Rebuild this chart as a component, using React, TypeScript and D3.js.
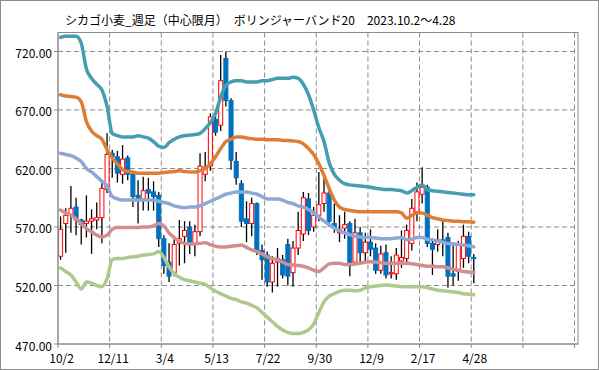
import React from 'react';
import * as d3 from 'd3';

// x軸ラベル (10本ごと)
const tickLabels = ['10/2', '12/11', '3/4', '5/13', '7/22', '9/30', '12/9', '2/17', '4/28'];

// 週足 OHLC
const open = [545, 573, 580, 587, 576, 573, 575, 576, 578, 602, 633, 630, 615, 629, 615, 597, 594, 602, 600, 597,
  560, 540, 531, 556, 562, 570, 556, 566, 615, 622, 662, 657, 714, 678, 626, 607, 577, 573, 590, 550,
  546, 523, 540, 542, 555, 531, 552, 564, 594, 570, 580, 590, 599, 573, 565, 569, 573, 540, 565, 548,
  557, 552, 533, 548, 530, 530, 541, 543, 556, 583, 598, 604, 556, 555, 559, 561, 530, 532, 543, 562, 544];
const high = [579, 586, 605, 595, 577, 597, 585, 591, 610, 650, 636, 635, 640, 631, 617, 610, 613, 612, 609, 600,
  563, 556, 560, 576, 575, 575, 572, 633, 634, 667, 665, 717, 720, 680, 634, 610, 592, 595, 591, 555,
  549, 545, 552, 546, 560, 558, 583, 600, 599, 587, 617, 614, 604, 590, 580, 583, 575, 577, 570, 565,
  568, 556, 554, 555, 545, 552, 567, 572, 594, 608, 621, 606, 560, 568, 575, 565, 557, 558, 572, 566, 547];
const low = [542, 548, 565, 563, 555, 561, 547, 568, 556, 599, 612, 608, 607, 610, 587, 573, 584, 584, 584, 553,
  530, 523, 528, 537, 539, 547, 545, 562, 609, 618, 648, 652, 673, 619, 606, 570, 557, 562, 546, 525,
  519, 514, 519, 526, 520, 519, 546, 558, 563, 566, 575, 583, 570, 565, 557, 560, 528, 537, 540, 540,
  545, 530, 530, 526, 526, 525, 535, 538, 550, 575, 590, 553, 529, 549, 545, 518, 520, 524, 535, 539, 522];
const close = [568, 580, 586, 576, 572, 575, 577, 578, 603, 632, 630, 616, 628, 615, 596, 593, 601, 599, 596, 560,
  537, 528, 555, 560, 567, 557, 566, 622, 621, 664, 651, 695, 678, 627, 612, 575, 573, 590, 550, 542,
  523, 539, 543, 529, 528, 552, 567, 595, 567, 580, 589, 599, 575, 569, 568, 572, 537, 565, 548, 557,
  551, 533, 547, 529, 531, 546, 544, 567, 586, 600, 604, 556, 551, 559, 557, 528, 528, 555, 562, 545, 543];

// ボリンジャーバンド
const upper2 = [732, 733, 733, 733, 727, 705, 697, 692, 687, 673, 650, 648, 647, 647, 647, 648, 647, 646, 643, 639,
  638, 642, 645, 647, 648, 648.5, 649, 650, 654, 659, 667, 681, 691, 694, 695, 695, 694, 694, 694, 695,
  695, 696, 697, 697, 697, 698, 697, 692, 683, 670, 655, 643, 625, 615, 610, 607, 606, 605.5, 605, 604.5,
  604, 603, 602.5, 602, 602, 601.5, 601, 599, 601, 604, 606, 602, 601, 600.5, 600, 599.5, 599, 598.5, 598, 597.5, 597.5];
const upper1 = [683, 682, 681.5, 681, 677, 660, 652, 648, 645, 636, 629, 624, 619, 617.5, 617, 616, 616, 616, 616, 616,
  616.5, 617, 617.5, 618, 617.5, 617, 617, 618, 620, 624, 630, 637, 643, 645, 647, 647, 646, 645.5, 645, 645,
  644.5, 644.5, 644.5, 644, 644, 643.5, 643, 641, 637, 632, 624, 614, 603, 593, 587, 585, 584, 583.5, 583, 583,
  583, 583, 583, 583, 583, 583, 582, 577.5, 580, 582, 582, 580, 578, 577, 576, 575.5, 575, 575, 574.5, 574.5, 574];
const ma20 = [633, 632, 631, 629, 626, 620, 617, 613, 609, 605, 596, 594, 593, 593, 593, 593, 593, 593, 593, 592,
  591, 590, 588, 587, 586.5, 587, 587, 588, 590, 592, 594, 596, 598, 599, 600, 600, 600, 599, 598, 596,
  594, 594, 594, 593, 591, 590, 588, 587, 585, 582, 578.5, 575, 572, 569, 567, 565, 563.5, 562, 561.5, 561,
  561, 560.5, 560, 560, 560, 560.5, 561, 559, 559.5, 561, 561, 559.5, 559, 558, 557, 556, 555.5, 555, 554.5, 554, 553];
const lower1 = [584.5, 582, 580, 577, 573, 568.5, 566, 563, 561.5, 563, 568, 569.5, 569.5, 569.5, 569.5, 569.5, 570, 570, 571, 573,
  571, 565, 561, 558, 556, 555.5, 555.5, 556, 556.5, 555, 553.5, 553, 553, 553.5, 554, 554.5, 552.5, 550.5, 549, 547,
  544.5, 543, 542, 540, 538, 537.5, 537, 536.5, 535, 533, 532, 535, 538.5, 539, 539, 538, 538, 538.5, 539, 540,
  540.3, 540, 539.5, 539, 539, 539, 539, 539, 538.5, 538, 537, 536.5, 536.5, 536, 536, 535, 534, 533, 532, 531.5, 531];
const lower2 = [535, 532, 529, 523, 517, 523, 522, 520, 519, 526, 542, 543, 543, 544, 544.5, 545, 546, 546.5, 547, 549,
  544, 536, 530, 527, 525, 524, 523, 522, 521, 518, 515, 513, 511, 509, 508, 506, 505, 503, 501, 497,
  493, 489, 485, 482, 480, 479, 479, 480, 482, 487, 497, 506, 511, 513, 515, 516, 516, 515.5, 516, 518,
  519, 519.5, 520, 520.5, 520, 519.5, 519, 519, 519, 519, 519, 518, 517, 516, 515.5, 515, 514.5, 514, 513, 512.5, 512];

const title = 'シカゴ小麦_週足（中心限月）　ボリンジャーバンド20　2023.10.2～4.28';

export default function App() {
  const width = 599;
  const height = 370;
  const left = 58, right = 578, top = 32.5, bottom = 344;

  // 100 categories on the axis, data fills the first 81
  const x = d3.scaleLinear().domain([0, 100]).range([left, 574.5]);
  const y = d3.scaleLinear().domain([470, 736.2]).range([bottom, top]);
  const step = x(1) - x(0);
  const bodyW = step * 0.78;
  const cx = (i: number) => x(i + 0.5);

  const yTicks = d3.range(470, 721, 50);
  const xTicks = d3.range(0, 101, 10);

  const line = d3.line<number>()
    .x((d, i) => cx(i))
    .y(d => y(d))
    .curve(d3.curveMonotoneX);

  const bands = [
    { data: upper2, color: '#459DB4' },
    { data: upper1, color: '#DE7E34' },
    { data: ma20, color: '#8EA8D6' },
    { data: lower1, color: '#D18E8E' },
    { data: lower2, color: '#AEC98B' },
  ];

  const font = '"Noto Sans CJK JP", "Noto Sans", sans-serif';

  return (
    <div style={{ position: 'absolute', left: 0, top: 0 }}>
      <svg width={width} height={height} style={{ display: 'block' }}>
        <rect x={0.5} y={0.5} width={width - 1} height={height - 1} fill="#fff" stroke="#8c8c8c" />

        <text x={65} y={19} fontSize={12} fontFamily={font} dominantBaseline="central" fill="#000">{title}</text>

        {/* grid */}
        {yTicks.filter(t => t > 470).map(t => (
          <line key={'gy' + t} x1={left} x2={right} y1={y(t)} y2={y(t)}
            stroke="#8a8a8a" strokeDasharray="5,3" />
        ))}
        {xTicks.filter(t => t > 0).map(t => (
          <line key={'gx' + t} x1={x(t)} x2={x(t)} y1={top} y2={bottom}
            stroke="#8a8a8a" strokeDasharray="5,3" />
        ))}

        {/* candles */}
        {open.map((o, i) => {
          const c = close[i];
          const up = c >= o;
          const yTop = y(Math.max(o, c));
          const yBot = y(Math.min(o, c));
          return (
            <g key={'c' + i}>
              <line x1={cx(i)} x2={cx(i)} y1={y(high[i])} y2={y(low[i])} stroke="#000" strokeWidth={1.3} />
              <rect x={cx(i) - bodyW / 2} y={yTop} width={bodyW} height={Math.max(1, yBot - yTop)}
                fill={up ? '#fff' : '#0070C0'} stroke={up ? '#FF0000' : '#0070C0'} strokeWidth={1} />
            </g>
          );
        })}

        {/* bollinger bands */}
        {bands.map((b, k) => (
          <path key={'b' + k} d={line(b.data) || ''} fill="none" stroke={b.color}
            strokeWidth={3.5} strokeLinejoin="round" strokeLinecap="round" />
        ))}

        {/* plot border and axes */}
        <rect x={left} y={top} width={right - left} height={bottom - top} fill="none" stroke="#8c8c8c" />
        <line x1={left} x2={left} y1={top} y2={bottom} stroke="#8c8c8c" />
        <line x1={left} x2={right} y1={bottom} y2={bottom} stroke="#8c8c8c" />

        {yTicks.map(t => (
          <g key={'yt' + t}>
            <line x1={left - 4} x2={left} y1={y(t)} y2={y(t)} stroke="#8c8c8c" />
            <text x={52} y={y(t) + 1} textAnchor="end" dominantBaseline="central"
              fontSize={12} fontFamily={font} fill="#000">{t.toFixed(2)}</text>
          </g>
        ))}
        {xTicks.map(t => (
          <line key={'xt' + t} x1={x(t)} x2={x(t)} y1={bottom} y2={bottom + 4} stroke="#8c8c8c" />
        ))}
        {tickLabels.map((lab, k) => (
          <text key={'xl' + k} x={cx(k * 10) + 1} y={357} textAnchor="middle" dominantBaseline="central"
            fontSize={12} fontFamily={font} fill="#000">{lab}</text>
        ))}
      </svg>
    </div>
  );
}
